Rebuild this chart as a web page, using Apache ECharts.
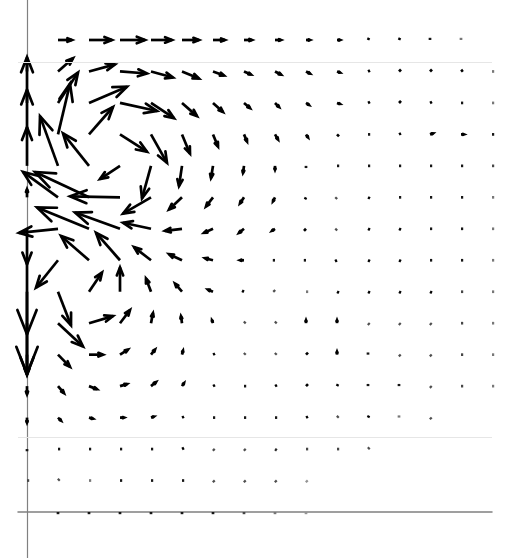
<!DOCTYPE html>
<html><head><meta charset="utf-8">
<script src="https://cdn.jsdelivr.net/npm/echarts@6/dist/echarts.min.js"></script>
<style>html,body{margin:0;padding:0;background:#fff}#c{width:527px;height:558px}</style>
</head><body><div id="c"></div>
<script>
// grid column positions (x) and row positions (y, top row first)
const colX = [0,1,2,3,4,5,6,7,8,9,10,11,12,13,14,15];
const rowY = [15,14,13,12,11,10,9,8,7,6,5,4,3,2,1,0];
// horizontal components per row (top row first)
const U = [
  [0, 14, 23, 25, 21, 17, 12, 8, 6, 4, 3, 1, 1, 0, 0, 0],
  [0, 15, 26, 27, 22, 17, 11, 7, 6, 4, 3, 2, 2, 2, 2, 1],
  [0, 20, 38, 37, 23, 15, 10, 6, 4, 3, 3, 2, 2, 2, 2, 1],
  [0, 12, 24, 27, 16, 8, 5, 3, 3, 2, 2, 2, 2, 3, 3, 2],
  [0, -18, -26, -20, -9, -3, -2, -1, 0, 0, 2, 2, 2, 2, 2, 1.5],
  [0, -35, -54, -50, -28, -13, -7, -4, -2, -1, -1, 2, 2, 2, 2, 1],
  [0, -39, -52, -45, -28, -17, -9, -5, -3, -2, -1, 2, 2, 2, 2, 1],
  [0, -22, -28, -24, -17, -13, -8, -4, -2, -2, -2, 2, 2, 2, 2, 1],
  [0, 13, 13, 0, -5, -7, -5, -2, -1, 1, 2, 2, 2, 2, 1.5, 1],
  [0, 25, 24, 10, 2, -1, -1, 1, 1, 0, 0, 1, 1, 1, 1.5, 1],
  [0, 12, 14, 8, 4, 1, 2, 1, 1, 2, 0, 0, 1, 1, 1.5, 1],
  [0, 6, 8, 7, 5, 2, 2, 2, 2, 2, 1, 0, 0, 1, 1.5, 1],
  [0, 3, 4, 4, 3, 2, 2, 2, 2, 2, 1, 1, 0, 1, 0, 0],
  [0, 2, 2, 2, 2, 2, 1, 1, 1.5, 1.5, 1.5, 1, 0, 0, 0, 0],
  [1.5, 1, 1, 2, 2, 2, 1, 1, 1, 0.5, 0, 0, 0, 0, 0, 0],
  [0, 0, 0, 0, 0, 0, 0, 0, 0, 0, 0, 0, 0, 0, 0, 0]
];
// vertical components per row (top row first, positive = up)
const V = [
  [0, 0, 0, 0, 0, 0, 0, 0, 0, 0, 0, 2, 2, 2, 1, 0],
  [12, 13, 7, -2, -6, -7, -4, -3, -3, -2, -1, 1, 2, 2, 1.5, 0],
  [45, 30, 16, -8, -15, -13, -9, -5, -4, -2, -1, 1, 2, 1, 0, 0],
  [44, 50, 27, -17, -28, -19, -12, -7, -5, -3, -2, 0, 1, 1, 0, 0],
  [38, 49, 32, -13, -32, -20, -12, -7, -4, -2, 0, 0, 0, 0, 0, 0],
  [8, 25, 25, 1, -16, -12, -9, -6, -4, -2, -1, -1, 0, 0, 0, 0],
  [-35, -4, 21, 16, 6, -2, -4, -4, -2, -2, -1, -1, -1, 0, 0, 0],
  [-73, -27, 24, 27, 13, 6, 2, 0, 0, 0, -1, -1, -1, 0, 0, 0],
  [-81, -33, 19, 24, 13, 8, 2, 1, 1, 0, -1, -1, -1, -1, 0, 0],
  [-50, -23, 7, 13, 10, 7, 3, 1, 1, 3, 3, -1, -1, -1, 0, 0],
  [-20, -12, 0, 5, 5, 4, 1, 1, 1, 2, 3, 2, -1, -1, 0, 0],
  [-8, -7, -3, 2, 4, 3, 1, 0, 1, 2, 2, 2, 2, -1, 0, 0],
  [-5, -3, -1, 0, 1, 1, 0, 0, 0, 1, 1, 2, 1, -1, 0, 0],
  [-2, 0, 0, 0, 0, 1, -1, -1, -1, 0, 0, 1, 0, 0, 0, 0],
  [0, 1, 0, 0, 0, 0, -1, -1, -1, -0.5, 0, 0, 0, 0, 0, 0],
  [0, -2, -2, -2, -2, -2, -2, -1.5, -1, -0.7, 0, 0, 0, 0, 0, 0]
];
// light reference lines
const refLinesY = [14.30, 2.383];

const S = 1 / 31; // arrow scale (data units per component unit)
const data = [];
rowY.forEach((y, r) => colX.forEach((x, c) => data.push([x, y, U[r][c], V[r][c]])));

function renderItem(params, api) {
  const x = api.value(0), y = api.value(1), u = api.value(2), v = api.value(3);
  const m = Math.hypot(u, v);
  if (m < 0.3) return null;
  const p0 = api.coord([x, y]);
  let p1 = api.coord([x + u * S, y + v * S]);
  let dx = p1[0] - p0[0], dy = p1[1] - p0[1];
  const L = Math.hypot(dx, dy);
  if (L < 2.2) { // keep tiny arrows visible as small dots
    const k = 2.2 / L; dx *= k; dy *= k; p1 = [p0[0] + dx, p0[1] + dy];
  }
  const a = 0.33, b = 0.13;
  const h1 = [p1[0] - a * dx - b * dy, p1[1] - a * dy + b * dx];
  const h2 = [p1[0] - a * dx + b * dy, p1[1] - a * dy - b * dx];
  const t = Math.min(1, 0.15 + m / 2.6);
  const g = Math.round(255 * (1 - t));
  const col = 'rgb(' + g + ',' + g + ',' + g + ')';
  const lw = 2.7;
  const children = [
    { type: 'line', shape: { x1: p0[0], y1: p0[1], x2: p1[0], y2: p1[1] },
      style: { stroke: col, lineWidth: lw, lineCap: 'butt' } }
  ];
  if (m >= 3) {
    children.push({ type: 'polyline', shape: { points: [h1, p1, h2] },
      style: { stroke: col, lineWidth: lw, lineJoin: 'miter', lineCap: 'round', fill: 'none' } });
  }
  return { type: 'group', children: children };
}

function axis(width, extra) {
  return Object.assign({
    type: 'value',
    axisLine: { show: true, onZero: true, lineStyle: { color: '#808080', width: width } },
    axisTick: { show: false },
    axisLabel: { show: false },
    splitLine: { show: false }
  }, extra);
}

const chart = echarts.init(document.getElementById('c'), null, { renderer: 'canvas' });
chart.setOption({
  animation: false,
  backgroundColor: '#ffffff',
  grid: { left: 18, right: 35, top: 0, bottom: 0, containLabel: false, outerBoundsMode: 'none' },
  xAxis: axis(1.5, { min: -9 / 31, max: 15 }),
  yAxis: axis(1.2, { min: -46 / 31.467, max: 512 / 31.467 }),
  series: [
    {
      type: 'line', data: [], z: 1, silent: true,
      markLine: {
        silent: true, symbol: ['none', 'none'], label: { show: false },
        lineStyle: { color: '#e6e6e6', width: 1, type: 'solid' },
        data: refLinesY.map(v => ({ yAxis: v }))
      }
    },
    { type: 'custom', data: data, renderItem: renderItem, z: 3, clip: false }
  ]
});
</script></body></html>
